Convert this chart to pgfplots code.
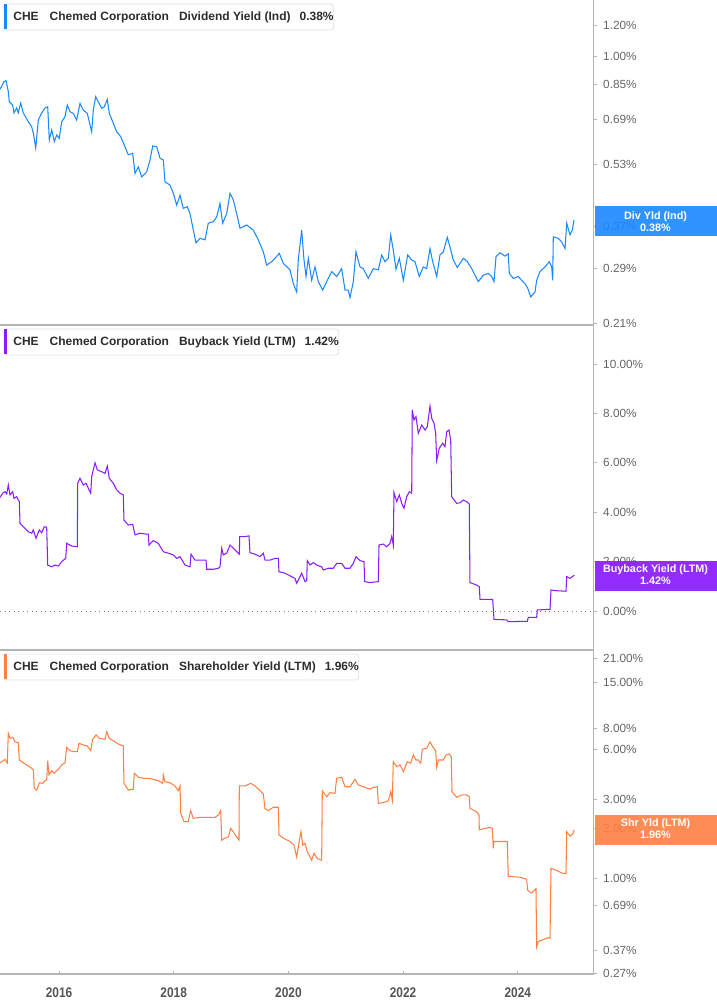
\documentclass[border=0pt]{standalone}
\usepackage{fontspec}
\setmainfont{Liberation Sans}
\newfontfamily\condfont{Liberation Sans}[FakeStretch=0.85]
\usepackage{pgfplots}
\usepackage{pgfplotstable}
\pgfplotsset{compat=1.18}
\definecolor{divblue}{RGB}{26,136,255}
\definecolor{bbpurple}{RGB}{138,28,255}
\definecolor{shorange}{RGB}{255,128,66}
\definecolor{tickgray}{RGB}{102,102,102}
\definecolor{xlabgray}{RGB}{85,85,85}
\definecolor{axgray}{RGB}{180,180,180}
\definecolor{legtext}{RGB}{45,45,45}
\definecolor{legborder}{RGB}{226,226,226}

\pgfplotstableread{
year val
2014.971 0.824
2015.041 0.862
2015.076 0.867
2015.116 0.813
2015.133 0.766
2015.192 0.752
2015.215 0.718
2015.262 0.739
2015.290 0.718
2015.332 0.761
2015.377 0.718
2015.464 0.682
2015.524 0.662
2015.552 0.638
2015.594 0.585
2015.639 0.689
2015.698 0.718
2015.756 0.739
2015.803 0.744
2015.831 0.613
2015.872 0.650
2015.918 0.607
2015.960 0.631
2016.005 0.619
2016.047 0.682
2016.104 0.702
2016.145 0.752
2016.192 0.723
2016.249 0.716
2016.308 0.689
2016.366 0.759
2016.423 0.730
2016.493 0.716
2016.570 0.643
2016.598 0.730
2016.640 0.789
2016.685 0.766
2016.744 0.738
2016.790 0.744
2016.842 0.777
2016.877 0.716
2016.947 0.676
2017.006 0.643
2017.076 0.625
2017.151 0.589
2017.208 0.562
2017.285 0.567
2017.325 0.504
2017.383 0.524
2017.442 0.494
2017.529 0.509
2017.587 0.545
2017.634 0.592
2017.703 0.589
2017.761 0.551
2017.819 0.545
2017.848 0.480
2017.935 0.471
2017.993 0.449
2018.052 0.419
2018.110 0.444
2018.167 0.411
2018.237 0.415
2018.284 0.399
2018.342 0.362
2018.389 0.336
2018.458 0.345
2018.546 0.342
2018.603 0.377
2018.690 0.380
2018.750 0.391
2018.807 0.423
2018.854 0.377
2018.924 0.399
2018.982 0.449
2019.039 0.432
2019.098 0.399
2019.156 0.366
2019.273 0.373
2019.388 0.362
2019.475 0.342
2019.562 0.319
2019.621 0.295
2019.709 0.301
2019.766 0.307
2019.841 0.316
2019.911 0.298
2020.028 0.287
2020.085 0.265
2020.144 0.252
2020.172 0.304
2020.232 0.362
2020.272 0.304
2020.307 0.276
2020.347 0.307
2020.406 0.270
2020.464 0.292
2020.521 0.268
2020.598 0.255
2020.668 0.268
2020.755 0.284
2020.842 0.276
2020.929 0.289
2020.987 0.255
2021.044 0.255
2021.074 0.244
2021.132 0.268
2021.178 0.319
2021.248 0.292
2021.306 0.289
2021.393 0.273
2021.480 0.289
2021.568 0.287
2021.627 0.313
2021.684 0.301
2021.742 0.307
2021.784 0.352
2021.829 0.322
2021.876 0.288
2021.934 0.307
2022.004 0.270
2022.080 0.313
2022.150 0.304
2022.207 0.301
2022.282 0.276
2022.352 0.292
2022.411 0.289
2022.469 0.325
2022.516 0.301
2022.586 0.276
2022.643 0.313
2022.701 0.319
2022.771 0.347
2022.818 0.328
2022.875 0.304
2022.945 0.291
2023.050 0.307
2023.120 0.301
2023.196 0.289
2023.254 0.278
2023.311 0.268
2023.398 0.278
2023.486 0.281
2023.545 0.276
2023.585 0.268
2023.620 0.310
2023.690 0.317
2023.777 0.311
2023.834 0.315
2023.852 0.281
2023.922 0.273
2024.009 0.276
2024.068 0.270
2024.125 0.265
2024.172 0.258
2024.225 0.245
2024.300 0.252
2024.329 0.270
2024.387 0.284
2024.474 0.292
2024.549 0.301
2024.591 0.292
2024.608 0.270
2024.619 0.348
2024.706 0.345
2024.765 0.338
2024.823 0.325
2024.853 0.377
2024.910 0.352
2024.950 0.362
2024.980 0.384
}\divtable

\pgfplotstableread{
year val
2014.971 4.60
2015.018 4.77
2015.058 4.83
2015.088 4.74
2015.116 5.10
2015.145 4.70
2015.192 4.83
2015.215 4.56
2015.262 4.63
2015.290 4.49
2015.308 4.43
2015.320 3.55
2015.377 3.41
2015.464 3.21
2015.524 3.15
2015.552 3.28
2015.599 2.94
2015.656 3.28
2015.698 3.17
2015.743 3.41
2015.785 3.39
2015.803 1.86
2015.872 1.79
2015.930 1.86
2015.988 1.82
2016.047 2.00
2016.117 2.13
2016.134 2.74
2016.221 2.63
2016.319 2.60
2016.326 5.17
2016.366 5.37
2016.423 5.10
2016.471 5.17
2016.511 4.97
2016.553 4.77
2016.570 5.44
2016.628 6.00
2016.668 5.71
2016.744 5.64
2016.802 5.57
2016.842 5.87
2016.877 5.37
2016.947 5.17
2017.006 4.90
2017.063 4.77
2017.121 4.70
2017.133 3.68
2017.208 3.48
2017.285 3.51
2017.325 3.08
2017.412 3.15
2017.499 3.12
2017.557 3.11
2017.569 2.67
2017.644 2.85
2017.731 2.74
2017.819 2.40
2017.906 2.34
2017.993 2.27
2018.052 2.13
2018.110 2.20
2018.197 1.86
2018.284 1.79
2018.302 2.30
2018.371 2.06
2018.563 2.06
2018.575 1.69
2018.690 1.69
2018.778 1.73
2018.807 1.79
2018.837 2.54
2018.865 2.27
2018.924 2.34
2018.982 2.67
2019.039 2.54
2019.144 2.30
2019.151 3.01
2019.243 3.01
2019.313 3.04
2019.330 2.36
2019.418 2.30
2019.505 2.20
2019.562 2.34
2019.592 2.06
2019.679 2.06
2019.766 2.13
2019.824 2.13
2019.836 1.59
2019.941 1.53
2020.057 1.39
2020.115 1.32
2020.144 1.12
2020.202 1.39
2020.232 1.53
2020.289 1.19
2020.319 1.23
2020.329 2.04
2020.377 1.86
2020.434 1.96
2020.493 1.86
2020.580 1.79
2020.609 1.66
2020.696 1.73
2020.783 1.73
2020.842 1.93
2020.929 1.93
2020.987 1.73
2021.074 1.73
2021.132 1.93
2021.178 2.20
2021.248 2.04
2021.318 2.00
2021.330 1.19
2021.423 1.15
2021.568 1.19
2021.580 2.67
2021.655 2.71
2021.714 2.60
2021.772 2.74
2021.801 3.01
2021.829 2.67
2021.841 4.79
2021.888 4.43
2021.934 4.70
2021.975 4.36
2022.015 4.16
2022.063 4.63
2022.108 4.83
2022.150 4.77
2022.160 8.14
2022.190 7.73
2022.225 7.87
2022.265 7.19
2022.324 7.53
2022.382 7.33
2022.422 7.46
2022.469 8.30
2022.499 7.80
2022.539 7.60
2022.568 7.19
2022.586 6.09
2022.631 6.59
2022.690 6.79
2022.730 6.65
2022.760 7.26
2022.800 7.33
2022.830 6.92
2022.847 4.63
2022.934 4.36
2022.992 4.38
2023.050 4.49
2023.109 4.43
2023.154 4.33
2023.166 1.15
2023.283 1.05
2023.329 0.98
2023.341 0.47
2023.562 0.47
2023.585 -0.34
2023.806 -0.36
2023.834 -0.43
2024.166 -0.42
2024.183 -0.26
2024.329 -0.26
2024.340 0.04
2024.562 0.07
2024.579 0.85
2024.678 0.82
2024.840 0.80
2024.853 1.39
2024.910 1.32
2024.985 1.45
}\bbtable

\pgfplotstableread{
year val
2014.971 4.96
2015.029 5.10
2015.058 5.20
2015.098 4.96
2015.116 7.45
2015.145 6.95
2015.192 7.05
2015.233 6.63
2015.290 6.54
2015.308 5.15
2015.377 4.96
2015.437 4.81
2015.524 4.59
2015.552 4.49
2015.569 3.48
2015.611 3.40
2015.656 3.76
2015.716 3.73
2015.756 3.87
2015.785 3.91
2015.803 5.10
2015.825 4.19
2015.872 4.44
2015.913 4.29
2015.988 4.53
2016.047 4.81
2016.104 4.96
2016.134 6.14
2016.192 5.86
2016.249 5.78
2016.319 5.78
2016.349 6.49
2016.423 6.34
2016.493 6.25
2016.553 5.86
2016.587 6.86
2016.645 7.28
2016.703 6.95
2016.802 6.86
2016.832 7.62
2016.877 6.95
2016.947 6.72
2017.034 6.43
2017.121 6.25
2017.133 3.73
2017.208 3.40
2017.295 3.44
2017.313 4.29
2017.383 4.06
2017.470 4.00
2017.557 4.00
2017.644 3.94
2017.731 3.87
2017.808 3.73
2017.819 4.19
2017.848 3.82
2017.935 3.76
2018.023 3.60
2018.080 3.37
2018.110 3.60
2018.122 2.47
2018.179 2.20
2018.254 2.20
2018.296 2.56
2018.342 2.30
2018.458 2.33
2018.720 2.33
2018.778 2.41
2018.819 2.56
2018.837 1.70
2018.894 1.75
2018.952 1.78
2018.994 2.00
2019.039 1.91
2019.098 1.78
2019.138 1.70
2019.144 3.60
2019.243 3.60
2019.343 3.73
2019.418 3.60
2019.505 3.37
2019.562 3.22
2019.592 2.64
2019.650 2.56
2019.737 2.68
2019.824 2.68
2019.836 1.83
2019.911 1.75
2020.028 1.67
2020.098 1.59
2020.144 1.35
2020.202 1.78
2020.220 1.91
2020.249 1.59
2020.289 1.63
2020.329 1.45
2020.406 1.29
2020.446 1.42
2020.504 1.32
2020.580 1.29
2020.591 3.37
2020.668 3.10
2020.725 3.28
2020.812 3.25
2020.842 4.00
2020.929 4.06
2020.987 3.56
2021.074 3.56
2021.161 3.94
2021.219 3.65
2021.306 3.56
2021.423 3.44
2021.480 3.53
2021.550 3.56
2021.568 2.83
2021.655 2.86
2021.742 2.93
2021.784 3.32
2021.812 2.96
2021.829 5.03
2021.888 4.70
2021.946 4.81
2022.004 4.38
2022.073 5.03
2022.132 4.92
2022.178 5.52
2022.225 5.15
2022.265 5.15
2022.307 4.92
2022.335 5.97
2022.411 6.05
2022.469 6.63
2022.516 6.19
2022.568 5.86
2022.586 4.66
2022.614 5.15
2022.701 5.15
2022.748 5.52
2022.805 5.60
2022.840 5.39
2022.853 3.32
2022.934 3.08
2023.022 3.18
2023.109 3.18
2023.154 3.10
2023.166 2.64
2023.224 2.58
2023.283 2.52
2023.323 2.41
2023.329 1.96
2023.428 2.00
2023.515 2.03
2023.555 2.00
2023.573 1.52
2023.585 1.67
2023.817 1.67
2023.834 1.03
2024.038 1.02
2024.155 0.99
2024.172 0.85
2024.242 0.82
2024.317 0.87
2024.329 0.39
2024.357 0.42
2024.444 0.43
2024.514 0.44
2024.562 0.44
2024.579 1.15
2024.678 1.12
2024.765 1.08
2024.840 1.07
2024.853 1.91
2024.910 1.80
2024.957 1.85
2024.985 1.96
}\shtable

\pgfplotsset{
  cheaxis/.style={
    scale only axis, width=593.5pt,
    xmin=2014.971, xmax=2025.32,
    axis x line*=bottom, axis y line*=right,
    axis line style={-, draw=axgray, line width=1.6pt},
    x axis line style={-}, y axis line style={-},
    ytick align=outside, xtick align=inside,
    major tick length=3.5pt,
    tick style={draw=axgray, line width=0.9pt},
    yticklabel style={font=\fontsize{11.8}{12}\selectfont, text=tickgray, anchor=west, inner sep=0pt, xshift=6pt},
    yminorticks=false, xminorticks=false,
    clip=true,
  },
}

\begin{document}
\begin{tikzpicture}[x=1pt,y=1pt]
\useasboundingbox (0,0) rectangle (717,1005);

% Panel 1: dividend yield
\begin{axis}[cheaxis, at={(0pt,680pt)}, anchor=south west, height=325pt,
  ymode=log, ymin=0.2079, ymax=1.389,
  ytick={0.21,0.29,0.37,0.53,0.69,0.85,1.0,1.2},
  yticklabels={0.21\%,0.29\%,0.37\%,0.53\%,0.69\%,0.85\%,1.00\%,1.20\%},
  xtick=\empty]
\addplot[divblue, line width=1.05pt] table[x=year,y=val] {\divtable};
\end{axis}

% Panel 2: buyback yield
\begin{axis}[cheaxis, at={(0pt,355pt)}, anchor=south west, height=325pt,
  ymin=-1.579, ymax=11.579,
  ytick={0,2,4,6,8,10},
  yticklabels={0.00\%,2.00\%,4.00\%,6.00\%,8.00\%,10.00\%},
  xtick=\empty]
\addplot[gray, line width=0.9pt, dash pattern=on 1pt off 3.5pt] coordinates {(2014.971,0) (2025.32,0)};
\addplot[bbpurple, line width=1.05pt] table[x=year,y=val] {\bbtable};
\end{axis}

% Panel 3: shareholder yield
\begin{axis}[cheaxis, at={(0pt,31pt)}, anchor=south west, height=324pt,
  ymode=log, ymin=0.2675, ymax=23.56,
  ytick={0.27,0.37,0.69,1,2,3,6,8,15,21},
  yticklabels={0.27\%,0.37\%,0.69\%,1.00\%,2.00\%,3.00\%,6.00\%,8.00\%,15.00\%,21.00\%},
  xtick={2016,2018,2020,2022,2024},
  xticklabels={2016,2018,2020,2022,2024},
  xticklabel style={font=\condfont\bfseries\fontsize{14}{15}\selectfont, text=xlabgray, anchor=north, inner sep=0pt, yshift=-14pt}]
\addplot[shorange, line width=1.05pt] table[x=year,y=val] {\shtable};
\end{axis}

% Legend boxes
\newcommand\legfont{\fontsize{12}{14}\selectfont\bfseries\color{legtext}}
\node[anchor=west, draw=legborder, fill=white, rounded corners=3pt, line width=0.8pt,
  minimum height=26pt, inner xsep=0pt] (L1) at (3.5,988)
  {\hspace{9.5pt}\legfont CHE\hspace{11pt}Chemed Corporation\hspace{10pt}Dividend Yield (Ind)\hspace{9pt}0.38\%\hspace{16pt}};
\fill[divblue] (3.5,975.5) rectangle (7,1000.5);

\node[anchor=west, draw=legborder, fill=white, rounded corners=3pt, line width=0.8pt,
  minimum height=26pt, inner xsep=0pt] (L2) at (3.5,663)
  {\hspace{9.5pt}\legfont CHE\hspace{11pt}Chemed Corporation\hspace{10pt}Buyback Yield (LTM)\hspace{9pt}1.42\%\hspace{16pt}};
\fill[bbpurple] (3.5,650.5) rectangle (7,675.5);

\node[anchor=west, draw=legborder, fill=white, rounded corners=3pt, line width=0.8pt,
  minimum height=26pt, inner xsep=0pt] (L3) at (3.5,338)
  {\hspace{9.5pt}\legfont CHE\hspace{11pt}Chemed Corporation\hspace{10pt}Shareholder Yield (LTM)\hspace{9pt}1.96\%\hspace{16pt}};
\fill[shorange] (3.5,325.5) rectangle (7,350.5);

% Value boxes on the right axis (they cover the nearby tick label, as in the original)
\newcommand\valfont{\fontsize{10.8}{12}\selectfont\bfseries\color{white}}
\fill[divblue, fill opacity=0.9] (594.5,769) rectangle (717,799);
\node[font=\valfont] at (655.5,788.3) {Div Yld (Ind)};
\node[font=\valfont] at (655.5,777.7) {0.38\%};

\fill[bbpurple, fill opacity=0.93] (594.5,414.3) rectangle (717,444.3);
\node[font=\valfont] at (655.5,435) {Buyback Yield (LTM)};
\node[font=\valfont] at (655.5,424.3) {1.42\%};

\fill[shorange, fill opacity=0.9] (594.5,160) rectangle (717,189.7);
\node[font=\valfont] at (655.5,181) {Shr Yld (LTM)};
\node[font=\valfont] at (655.5,170) {1.96\%};
\end{tikzpicture}
\end{document}
